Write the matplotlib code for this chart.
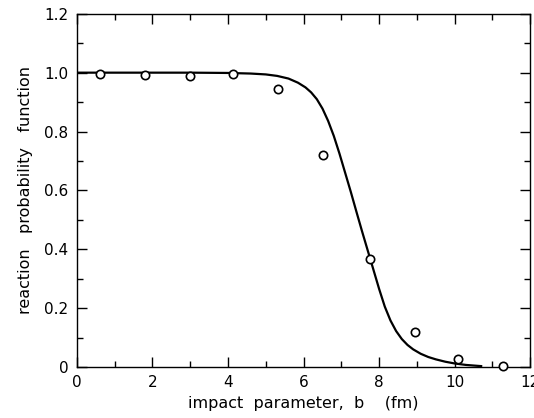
import numpy as np
import matplotlib
matplotlib.use("Agg")
import matplotlib.pyplot as plt
from matplotlib.ticker import MultipleLocator

# Measured points (open circles)
b_points = [0.61, 1.80, 3.00, 4.14, 5.33, 6.52, 7.77, 8.94, 10.10, 11.27]
p_points = [0.997, 0.993, 0.990, 0.997, 0.946, 0.720, 0.367, 0.119, 0.027, 0.004]

# Calculated curve
b_curve = [0.0, 1.0, 2.0, 3.0, 4.0, 4.6, 5.0, 5.3, 5.6, 5.85, 6.05, 6.2,
           6.35, 6.5, 6.65, 6.8, 6.95, 7.1, 7.25, 7.4, 7.55, 7.7, 7.85,
           8.0, 8.15, 8.3, 8.45, 8.6, 8.75, 8.9, 9.1, 9.3, 9.5, 9.75,
           10.0, 10.3, 10.7]
p_curve = [1.0, 1.0, 1.0, 1.0, 0.999, 0.997, 0.994, 0.989, 0.980, 0.966,
           0.950, 0.933, 0.910, 0.878, 0.836, 0.785, 0.725, 0.660, 0.595,
           0.527, 0.460, 0.395, 0.330, 0.265, 0.205, 0.158, 0.122, 0.095,
           0.075, 0.060, 0.045, 0.034, 0.026, 0.018, 0.012, 0.007, 0.003]

x_ticks = [0, 2, 4, 6, 8, 10, 12]
x_ticklabels = ["0", "2", "4", "6", "8", "10", "12"]
y_ticks = [0, 0.2, 0.4, 0.6, 0.8, 1.0, 1.2]
y_ticklabels = ["0", "0.2", "0.4", "0.6", "0.8", "1.0", "1.2"]

fig = plt.figure(figsize=(5.34, 4.18), dpi=100)
ax = fig.add_axes([0.144, 0.122, 0.849, 0.845])

ax.plot(b_curve, p_curve, color="black", lw=1.6, zorder=2,
        solid_joinstyle="round")
ax.plot(b_points, p_points, "o", ms=6, mfc="white", mec="black", mew=1.2,
        zorder=3, clip_on=False)

ax.set_xlim(0, 12)
ax.set_ylim(0, 1.2)
ax.set_xticks(x_ticks)
ax.set_xticklabels(x_ticklabels)
ax.set_yticks(y_ticks)
ax.set_yticklabels(y_ticklabels)
ax.xaxis.set_minor_locator(MultipleLocator(1))
ax.yaxis.set_minor_locator(MultipleLocator(0.1))

ax.tick_params(which="both", direction="in", top=True, right=True,
               labelsize=11, width=1.0)
ax.tick_params(which="major", length=7, pad=6)
ax.tick_params(which="minor", length=4)
for s in ax.spines.values():
    s.set_linewidth(1.0)

ax.set_xlabel("impact  parameter,  b    (fm)", fontsize=11.5, labelpad=4)
ax.set_ylabel("reaction   probability   function", fontsize=11.5, labelpad=8)

fig.savefig("out.png", dpi=100)
